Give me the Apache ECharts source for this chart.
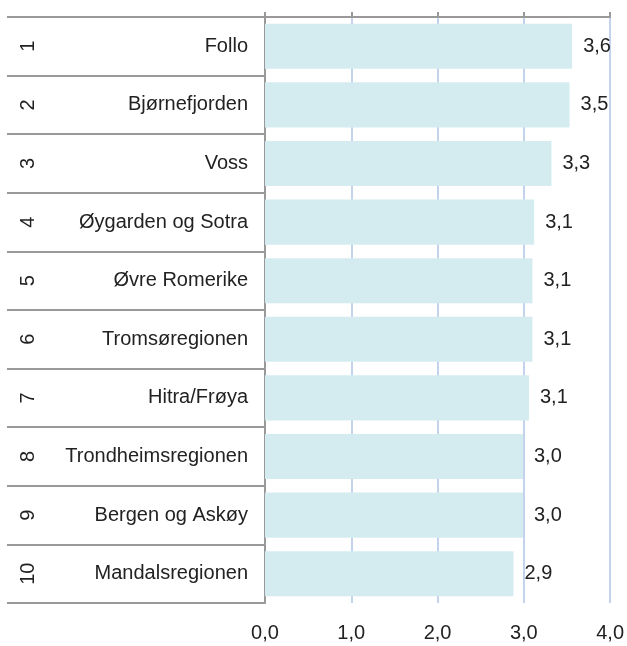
<!DOCTYPE html>
<html>
<head>
<meta charset="utf-8">
<script src="https://cdn.jsdelivr.net/npm/echarts@6/dist/echarts.min.js"></script>
<style>
  html, body { margin: 0; padding: 0; background: #fff; }
  #chart { width: 627px; height: 646px; }
</style>
</head>
<body>
<div id="chart"></div>
<script>
var ranks = ['1', '2', '3', '4', '5', '6', '7', '8', '9', '10'];
var regions = ['Follo', 'Bjørnefjorden', 'Voss', 'Øygarden og Sotra', 'Øvre Romerike',
  'Tromsøregionen', 'Hitra/Frøya', 'Trondheimsregionen', 'Bergen og Askøy', 'Mandalsregionen'];
var values = [3.56, 3.53, 3.32, 3.12, 3.1, 3.1, 3.06, 2.99, 2.99, 2.88];
var xMin = 0, xMax = 4, xStep = 1;

var myChart = echarts.init(document.getElementById('chart'));

function comma(v) {
  return v.toFixed(1).replace('.', ',');
}

var axisGray = '#999999';
var gridBlue = '#c3d3ec';
var textColor = '#222222';
var fontFam = 'Liberation Sans, Arial, sans-serif';

var option = {
  animation: false,
  grid: { left: 265, right: 16, top: 17, bottom: 43 },
  xAxis: [
    {
      // top axis: line + ticks + grid lines
      type: 'value', position: 'top',
      min: xMin, max: xMax, interval: xStep,
      axisLine: { show: true, lineStyle: { color: axisGray, width: 2 } },
      axisTick: { show: true, length: 5, lineStyle: { color: axisGray, width: 2 } },
      axisLabel: { show: false },
      splitLine: { show: true, lineStyle: { color: gridBlue, width: 2 } }
    },
    {
      // bottom axis: only labels
      type: 'value', position: 'bottom',
      min: xMin, max: xMax, interval: xStep,
      axisLine: { show: false },
      axisTick: { show: false },
      splitLine: { show: false },
      axisLabel: {
        margin: 20, fontSize: 20, color: textColor, fontFamily: fontFam,
        formatter: function (v) { return comma(v); }
      }
    }
  ],
  yAxis: [
    {
      type: 'category', inverse: true, data: regions,
      axisLine: { show: true, lineStyle: { color: axisGray, width: 2 } },
      axisTick: { show: true, length: 258, lineStyle: { color: axisGray, width: 2 } },
      axisLabel: { margin: 17, fontSize: 20, color: textColor, fontFamily: fontFam }
    },
    {
      type: 'category', inverse: true, data: ranks,
      position: 'left', offset: 200,
      axisLine: { show: false },
      axisTick: { show: false },
      axisLabel: {
        rotate: 90, margin: 37, fontSize: 20, color: textColor, fontFamily: fontFam,
        align: 'center', verticalAlign: 'middle'
      }
    }
  ],
  series: [
    {
      type: 'bar',
      xAxisIndex: 0, yAxisIndex: 0,
      data: values,
      barCategoryGap: '23%',
      itemStyle: { color: '#d4ecf0' },
      label: {
        show: true, position: 'right', distance: 11,
        fontSize: 20, color: textColor, fontFamily: fontFam,
        formatter: function (p) { return comma(p.value); }
      },
      z: 3
    }
  ]
};

myChart.setOption(option);
window.addEventListener('resize', function () {
  myChart.resize();
});
</script>
</body>
</html>
